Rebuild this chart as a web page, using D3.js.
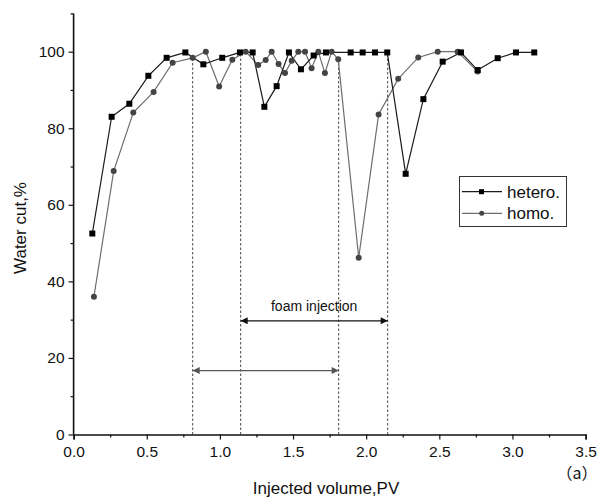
<!DOCTYPE html>
<html><head><meta charset="utf-8">
<script src="https://cdn.jsdelivr.net/npm/d3@7"></script>
<style>body{margin:0;background:#fff}svg{display:block}text{font-family:Arial,"Liberation Sans",sans-serif}</style>
</head><body><svg id="c" width="598" height="497"></svg>
<script>
const heteroX=[0.128,0.260,0.381,0.511,0.636,0.764,0.887,1.016,1.137,1.224,1.304,1.388,1.472,1.554,1.641,1.725,1.894,1.976,2.060,2.144,2.270,2.391,2.523,2.648,2.762,2.899,3.024,3.149];
const heteroY=[52.5,83.0,86.4,93.7,98.4,99.8,96.7,98.4,99.8,99.8,85.6,91.0,99.8,95.4,99.0,99.8,99.8,99.8,99.8,99.8,68.1,87.6,97.4,99.8,95.2,98.3,99.8,99.8];
const homoX=[0.139,0.274,0.408,0.547,0.677,0.814,0.904,0.995,1.085,1.176,1.262,1.313,1.354,1.401,1.445,1.491,1.536,1.582,1.627,1.673,1.718,1.764,1.809,1.949,2.085,2.219,2.356,2.489,2.625,2.762];
const homoY=[36.0,68.8,84.1,89.5,97.1,98.4,100,90.9,97.9,100,96.5,97.8,100,96.8,94.4,97.6,100,100,95.7,100,94.4,100,98.0,46.2,83.6,92.9,98.5,100,100,94.8];
const guideX=[0.814,1.142,1.812,2.147];
const guideTop=[98.4,100,98.0,100];
const arrowFoam=[1.142,2.147,29.7];
const arrowOther=[0.814,1.812,16.7];
const xTicks=[0,0.5,1,1.5,2,2.5,3,3.5];
const yTicks=[0,20,40,60,80,100];

const svg=d3.select("#c");
const x=d3.scaleLinear().domain([0,3.5]).range([73.6,585.6]);
const y=d3.scaleLinear().domain([0,110]).range([434.5,13.4]);

const defs=svg.append("defs");
function mk(id,col){
  defs.append("marker").attr("id",id).attr("viewBox","0 0 10 10").attr("refX",10).attr("refY",5)
   .attr("markerWidth",10).attr("markerHeight",7).attr("markerUnits","userSpaceOnUse").attr("orient","auto-start-reverse")
   .append("path").attr("d","M0,0L10,5L0,10Z").attr("fill",col);
}
mk("ahB","#111");mk("ahG","#555");

guideX.forEach((g,i)=>{
  svg.append("line").attr("x1",x(g)).attr("x2",x(g)).attr("y1",y(0)).attr("y2",y(guideTop[i]))
   .attr("stroke","#333").attr("stroke-width",0.9).attr("stroke-dasharray","2.5,2");
});
svg.append("line").attr("x1",x(arrowFoam[0])).attr("x2",x(arrowFoam[1])).attr("y1",y(arrowFoam[2])).attr("y2",y(arrowFoam[2]))
 .attr("stroke","#111").attr("stroke-width",1.2).attr("marker-start","url(#ahB)").attr("marker-end","url(#ahB)");
svg.append("line").attr("x1",x(arrowOther[0])).attr("x2",x(arrowOther[1])).attr("y1",y(arrowOther[2])).attr("y2",y(arrowOther[2]))
 .attr("stroke","#555").attr("stroke-width",1.2).attr("marker-start","url(#ahG)").attr("marker-end","url(#ahG)");
svg.append("text").attr("x",x((arrowFoam[0]+arrowFoam[1])/2)).attr("y",y(arrowFoam[2])-10)
 .attr("text-anchor","middle").attr("font-size",14).attr("fill","#111").text("foam injection");

const xAxis=d3.axisBottom(x).tickValues(xTicks).tickFormat(d3.format(".1f")).tickSize(5).tickPadding(6);
const gx=svg.append("g").attr("transform",`translate(0,${y(0)})`).call(xAxis);
gx.selectAll(".tick line").attr("stroke","#111").attr("stroke-width",1.2);
gx.selectAll("path.domain").attr("stroke","#111").attr("stroke-width",1.6);
gx.selectAll("text").attr("font-size",15.5).attr("fill","#111");
const xMinor=d3.axisBottom(x).tickValues(d3.range(0.25,3.5,0.5)).tickSize(3).tickFormat("");
const gxm=svg.append("g").attr("transform",`translate(0,${y(0)})`).call(xMinor);
gxm.select("path.domain").remove();gxm.selectAll("line").attr("stroke","#111").attr("stroke-width",1.2);

const yAxis=d3.axisLeft(y).tickValues(yTicks).tickSize(5).tickPadding(4);
const gy=svg.append("g").attr("transform",`translate(${x(0)},0)`).call(yAxis);
gy.selectAll(".tick line").attr("stroke","#111").attr("stroke-width",1.2);
gy.selectAll("path.domain").attr("stroke","#111").attr("stroke-width",1.6).attr("d",`M0,${y(0)}V${y(110)}`);
gy.selectAll("text").attr("font-size",15.5).attr("fill","#111");
const yMinor=d3.axisLeft(y).tickValues([10,30,50,70,90,110]).tickSize(3).tickFormat("");
const gym=svg.append("g").attr("transform",`translate(${x(0)},0)`).call(yMinor);
gym.select("path.domain").remove();gym.selectAll("line").attr("stroke","#111").attr("stroke-width",1.2);

svg.append("text").attr("transform","translate(26,228) rotate(-90)").attr("text-anchor","middle")
 .attr("font-size",17).attr("fill","#111").text("Water cut,%");
svg.append("text").attr("x",326).attr("y",494).attr("text-anchor","middle").attr("font-size",17).attr("fill","#111").text("Injected volume,PV");
svg.append("text").attr("x",577).attr("y",479).attr("text-anchor","middle").attr("font-size",16).attr("fill","#111")
 .style("font-family","'Noto Sans CJK SC',sans-serif").text("（a）");

const homo=homoX.map((v,i)=>[v,homoY[i]]);
const het=heteroX.map((v,i)=>[v,heteroY[i]]);
const line=d3.line().x(d=>x(d[0])).y(d=>y(d[1]));
svg.append("path").datum(homo).attr("d",line).attr("fill","none").attr("stroke","#6e6e6e").attr("stroke-width",1.2);
svg.append("path").datum(het).attr("d",line).attr("fill","none").attr("stroke","#1a1a1a").attr("stroke-width",1.2);
svg.selectAll("circle.h").data(homo).join("circle").attr("cx",d=>x(d[0])).attr("cy",d=>y(d[1])).attr("r",3).attr("fill","#444");
svg.selectAll("rect.s").data(het).join("rect").attr("x",d=>x(d[0])-3).attr("y",d=>y(d[1])-3).attr("width",6).attr("height",6).attr("fill","#000");

const lg=svg.append("g");
lg.append("rect").attr("x",459.5).attr("y",176.5).attr("width",107).attr("height",50).attr("fill","#fff").attr("stroke","#333").attr("stroke-width",1);
const names=["hetero.","homo."];
[0,1].forEach(i=>{
  const yy=i===0?191.7:213.3;
  lg.append("line").attr("x1",462).attr("x2",502).attr("y1",yy).attr("y2",yy).attr("stroke",i===0?"#1a1a1a":"#6e6e6e").attr("stroke-width",1.2);
  if(i===0) lg.append("rect").attr("x",479).attr("y",yy-2.5).attr("width",5).attr("height",5).attr("fill","#000");
  else lg.append("circle").attr("cx",481.7).attr("cy",yy).attr("r",2.5).attr("fill","#444");
  lg.append("text").attr("x",507).attr("y",yy+6).attr("font-size",17).attr("fill","#111").text(names[i]);
});
</script></body></html>
